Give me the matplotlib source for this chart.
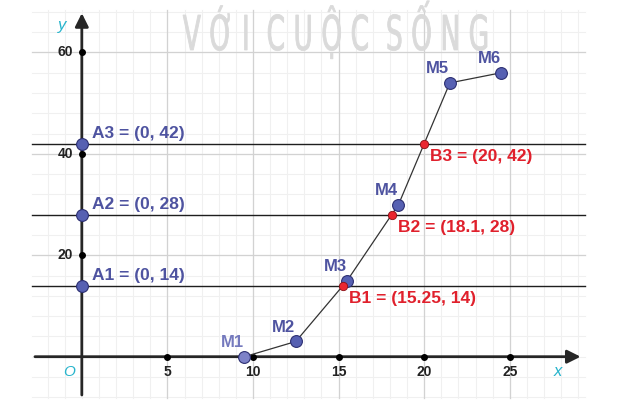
import matplotlib.pyplot as plt
import numpy as np
from matplotlib.textpath import TextPath
from matplotlib.patches import PathPatch
from matplotlib.font_manager import FontProperties
from matplotlib.transforms import Affine2D, IdentityTransform

# Donnees du graphique
m_names = ['M1', 'M2', 'M3', 'M4', 'M5', 'M6']
m_x = [9.5, 12.5, 15.5, 18.5, 21.5, 24.5]
m_y = [0, 3, 15, 30, 54, 56]

a_names = ['A1', 'A2', 'A3']
a_y = [14, 28, 42]

b_names = ['B1', 'B2', 'B3']
b_x = [15.25, 18.1, 20]
b_y = [14, 28, 42]

x_ticks = [5, 10, 15, 20, 25]
y_ticks = [20, 40, 60]

blue_txt = '#4e53a0'
blue_fill = '#5660b2'
blue_edge = '#2c2f72'
red_txt = '#e0202c'
red_fill = '#ea2630'
axis_col = '#262626'

plt.rcParams['font.family'] = ['Liberation Sans', 'DejaVu Sans']

fig = plt.figure(figsize=(6.33, 4.07), dpi=100)
ax = fig.add_axes([0, 0, 1, 1])
ax.set_xlim(-4.78, 32.2)
ax.set_ylim(-9.92, 70.35)
ax.axis('off')

# Grille (mineure puis majeure)
gx0, gx1, gy0, gy1 = -2.9, 29.4, -8.1, 68.4
for gx in np.arange(-2, 30, 1):
    ax.plot([gx, gx], [gy0, gy1], color='#f0f0f0', lw=0.8, zorder=0)
for gy in np.arange(-8, 69, 4):
    ax.plot([gx0, gx1], [gy, gy], color='#f0f0f0', lw=0.8, zorder=0)
for gx in x_ticks:
    ax.plot([gx, gx], [gy0, gy1], color='#d2d2d2', lw=0.9, zorder=1)
for gy in y_ticks:
    ax.plot([gx0, gx1], [gy, gy], color='#d2d2d2', lw=0.9, zorder=1)

# Filigrane (texte etroit, en pixels)
wm = TextPath((0, 0), 'V Ớ I  C U Ộ C  S Ố N G', size=48, prop=FontProperties(family='DejaVu Sans'))
bb = wm.get_extents()
sx = 304 / bb.width
tr = Affine2D().translate(-bb.x0, 0).scale(sx, 1.0).translate(183, 407 - 50)
ax.add_patch(PathPatch(tr.transform_path(wm), transform=IdentityTransform(),
                       facecolor='#dadada', edgecolor='#dadada', lw=0.6, zorder=1))

# Droites horizontales y = 14, 28, 42
for yy in a_y:
    ax.plot([gx0, gx1], [yy, yy], color='#1e1e1e', lw=1.0, zorder=2)

# Axes avec fleches
ax.annotate('', xy=(29.3, 0), xytext=(-2.9, 0),
            arrowprops=dict(arrowstyle='-|>', color=axis_col, lw=2, mutation_scale=20), zorder=3)
ax.annotate('', xy=(0, 68.3), xytext=(0, -8.1),
            arrowprops=dict(arrowstyle='-|>', color=axis_col, lw=2, mutation_scale=20), zorder=3)

# Graduations
ax.plot(x_ticks, [0] * len(x_ticks), 'o', color='black', ms=4, zorder=4)
ax.plot([0] * len(y_ticks), y_ticks, 'o', color='black', ms=4, zorder=4)
for t in x_ticks:
    ax.annotate(str(t), (t, 0), xytext=(0, -15), textcoords='offset pixels',
                ha='center', va='center', fontsize=10, weight='bold', color='#222222')
for t in y_ticks:
    ax.annotate(str(t), (0, t), xytext=(-9, 0), textcoords='offset pixels',
                ha='right', va='center', fontsize=10, weight='bold', color='#222222')

ax.annotate('O', (0, 0), xytext=(-13, -15), textcoords='offset pixels', ha='center', va='center',
            fontsize=11, style='italic', color='#27b4cc')
ax.text(27.8, -3, 'x', fontsize=12, style='italic', color='#27b4cc', ha='center', va='center')
ax.text(-1.17, 65.4, 'y', fontsize=12, style='italic', color='#27b4cc', ha='center', va='center')

# Ligne brisee M1..M6
ax.plot(m_x, m_y, color='#333333', lw=0.9, zorder=5)
m_fill = [blue_fill] * len(m_x)
m_fill[0] = '#7d82c8'
for i, name in enumerate(m_names):
    ax.plot(m_x[i], m_y[i], 'o', ms=8.5, mfc=m_fill[i], mec=blue_edge, mew=0.8, zorder=6)
    col = '#7479bd' if i == 0 else blue_txt
    ax.annotate(name, (m_x[i], m_y[i]), xytext=(-12, 14), textcoords='offset pixels',
                ha='center', va='center', fontsize=12, weight='bold', color=col)

# Points A
for name, yy in zip(a_names, a_y):
    ax.plot(0, yy, 'o', ms=8.5, mfc=blue_fill, mec=blue_edge, mew=0.8, zorder=6)
    ax.annotate(f'{name} = (0, {yy})', (0, yy), xytext=(10, 10), textcoords='offset pixels',
                ha='left', va='center', fontsize=12.5, weight='bold', color=blue_txt)

# Points B (intersections)
for name, xx, yy in zip(b_names, b_x, b_y):
    ax.plot(xx, yy, 'o', ms=6, mfc=red_fill, mec='#8a1016', mew=0.6, zorder=7)
    ax.annotate(f'{name} = ({xx:g}, {yy})', (xx, yy), xytext=(6, -13), textcoords='offset pixels',
                ha='left', va='center', fontsize=12.5, weight='bold', color=red_txt)

fig.savefig('out.png', dpi=100)
